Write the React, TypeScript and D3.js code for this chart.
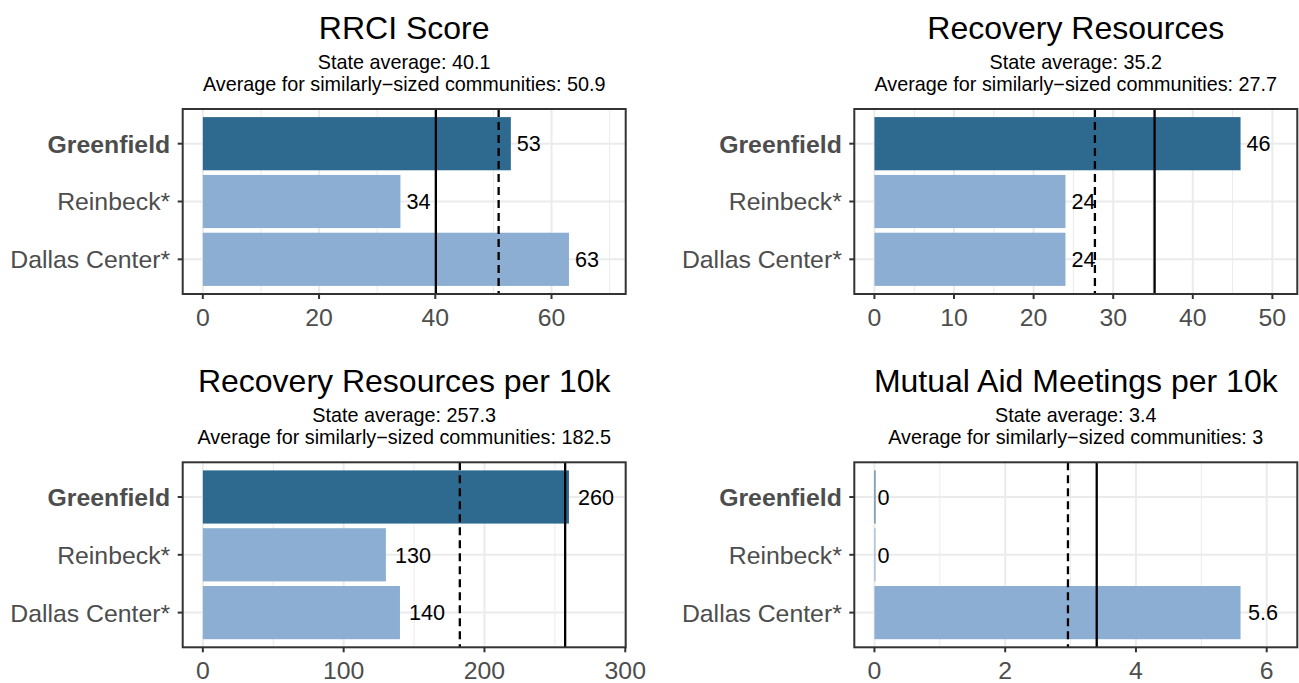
import React from "react";
import * as d3 from "d3";

const communities = ["Greenfield", "Reinbeck*", "Dallas Center*"];
const panelTitles = [
  "RRCI Score",
  "Recovery Resources",
  "Recovery Resources per 10k",
  "Mutual Aid Meetings per 10k",
];
const rrciScore = [53, 34, 63];
const recoveryResources = [46, 24, 24];
const resourcesPer10k = [260, 130, 140];
const meetingsPer10k = [0, 0, 5.6];
const stateAverage = [40.1, 35.2, 257.3, 3.4];
const similarAverage = [50.9, 27.7, 182.5, 2.96];
const majorTicks = [
  [0, 20, 40, 60],
  [0, 10, 20, 30, 40, 50],
  [0, 100, 200, 300],
  [0, 2, 4, 6],
];

const seriesList = [rrciScore, recoveryResources, resourcesPer10k, meetingsPer10k];

const FONT = "'Liberation Sans', Arial, Helvetica, sans-serif";
const DARK = "#2E6A8F";
const LIGHT = "#8CAED2";
const GRID = "#EBEBEB";
const FRAME = "#333333";
const AXIS_TEXT = "#4D4D4D";

const colLeft = [182.7, 854.3];
const rowTop = [109, 462.3];
const plotW = 443;
const plotH = 185;

function fmt1(v: number) {
  return String(Math.round(v * 10) / 10);
}
function fmtLabel(v: number) {
  if (v === 0) return "0";
  return String(+d3.format(".2")(v));
}
function textWidth(s: string, size: number) {
  let w = 0;
  for (const c of s) w += c === "." ? 0.278 : 0.556;
  return w * size;
}

function Panel({ idx }: { idx: number }) {
  const values = seriesList[idx];
  const col = idx % 2;
  const row = Math.floor(idx / 2);
  const left = colLeft[col];
  const top = rowTop[row];
  const maxV = d3.max(values)! * 1.1;
  const x = d3
    .scaleLinear()
    .domain([-maxV * 0.05, maxV * 1.05])
    .range([left, left + plotW]);
  const y = d3
    .scaleLinear()
    .domain([0.4, 3.6])
    .range([top, top + plotH]);
  const ticks = majorTicks[idx];
  const step = ticks[1] - ticks[0];
  const minor: number[] = [];
  for (let t = ticks[0] - step / 2; t <= x.domain()[1]; t += step) {
    if (t >= x.domain()[0]) minor.push(t);
  }
  const bw = y(1.46) - y(0.54);
  const cx = left + plotW / 2;
  const labelSize = 21.6;
  return (
    <g>
      <text x={cx} y={top - 70.5} textAnchor="middle" fontSize={32} fill="#000">
        {panelTitles[idx]}
      </text>
      <text x={cx} y={top - 40.5} textAnchor="middle" fontSize={19.8} fill="#000">
        {`State average: ${fmt1(stateAverage[idx])}`}
      </text>
      <text x={cx} y={top - 18} textAnchor="middle" fontSize={19.8} fill="#000">
        {`Average for similarly\u2212sized communities: ${fmt1(similarAverage[idx])}`}
      </text>
      {minor.map((t) => (
        <line key={"mn" + t} x1={x(t)} x2={x(t)} y1={top} y2={top + plotH} stroke={GRID} strokeWidth={1} />
      ))}
      {ticks.map((t) => (
        <line key={"mj" + t} x1={x(t)} x2={x(t)} y1={top} y2={top + plotH} stroke={GRID} strokeWidth={2} />
      ))}
      {communities.map((c, i) => (
        <line key={"hy" + c} x1={left} x2={left + plotW} y1={y(i + 1)} y2={y(i + 1)} stroke={GRID} strokeWidth={2} />
      ))}
      {communities.map((c, i) => {
        const x0 = x(0);
        const w = Math.max(x(values[i]) - x0, 1);
        return (
          <rect
            key={"b" + c}
            x={x0}
            y={y(i + 1) - bw / 2}
            width={w}
            height={bw}
            fill={i === 0 ? DARK : LIGHT}
          />
        );
      })}
      <line
        x1={x(similarAverage[idx])}
        x2={x(similarAverage[idx])}
        y1={top}
        y2={top + plotH}
        stroke="#000"
        strokeWidth={2.3}
        strokeDasharray="8,5"
      />
      <line
        x1={x(stateAverage[idx])}
        x2={x(stateAverage[idx])}
        y1={top}
        y2={top + plotH}
        stroke="#000"
        strokeWidth={2.3}
      />
      {communities.map((c, i) => {
        const lab = fmtLabel(values[i]);
        return (
          <text
            key={"l" + c}
            x={x(values[i]) + 0.25 * textWidth(lab, labelSize)}
            y={y(i + 1) + labelSize * 0.36}
            fontSize={labelSize}
            fill="#000"
          >
            {lab}
          </text>
        );
      })}
      <rect x={left} y={top} width={plotW} height={plotH} fill="none" stroke={FRAME} strokeWidth={2} />
      {ticks.map((t) => (
        <g key={"xt" + t}>
          <line x1={x(t)} x2={x(t)} y1={top + plotH} y2={top + plotH + 5} stroke={FRAME} strokeWidth={2} />
          <text x={x(t)} y={top + plotH + 32} textAnchor="middle" fontSize={24.8} fill={AXIS_TEXT}>
            {t}
          </text>
        </g>
      ))}
      {communities.map((c, i) => (
        <g key={"yt" + c}>
          <line x1={left - 5} x2={left} y1={y(i + 1)} y2={y(i + 1)} stroke={FRAME} strokeWidth={2} />
          <text
            x={left - 12.5}
            y={y(i + 1) + 24.8 * 0.36}
            textAnchor="end"
            fontSize={24.8}
            fontWeight={i === 0 ? "bold" : "normal"}
            fill={AXIS_TEXT}
          >
            {c}
          </text>
        </g>
      ))}
    </g>
  );
}

export default function App() {
  return (
    <svg
      width={1299}
      height={683}
      style={{ position: "absolute", left: 0, top: 0, background: "#fff" }}
      fontFamily={FONT}
    >
      <rect x={0} y={0} width={1299} height={683} fill="#fff" />
      {[0, 1, 2, 3].map((i) => (
        <Panel key={i} idx={i} />
      ))}
    </svg>
  );
}
